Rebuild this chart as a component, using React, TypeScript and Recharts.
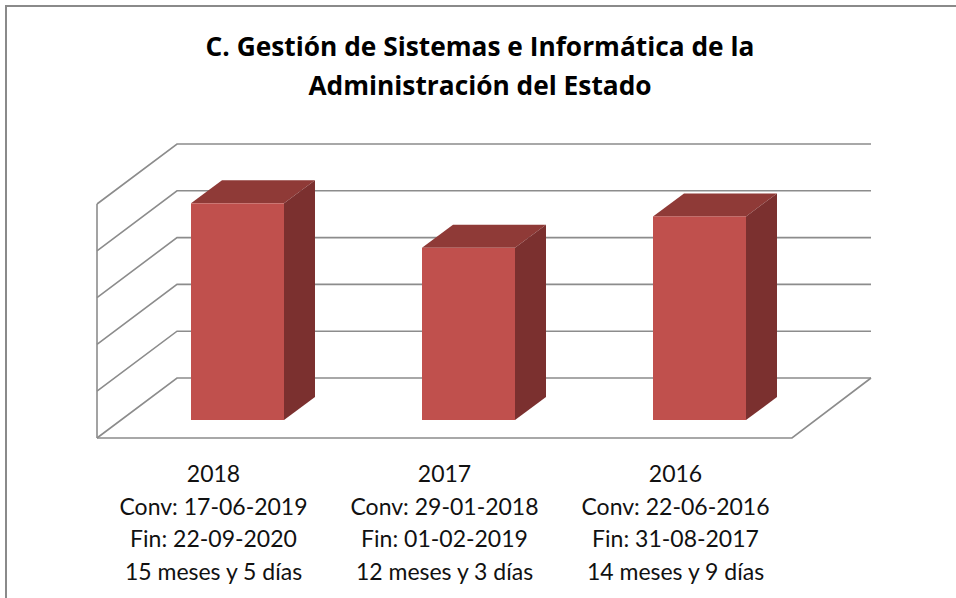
import { Bar, BarChart, CartesianGrid, ReferenceArea, XAxis, YAxis } from "recharts";

const years = ["2018", "2017", "2016"];
const convDates = ["17-06-2019", "29-01-2018", "22-06-2016"];
const finDates = ["22-09-2020", "01-02-2019", "31-08-2017"];
const durations = ["15 meses y 5 días", "12 meses y 3 días", "14 meses y 9 días"];
// duración del convenio en días
const durationDays = [463, 368, 435];
const yTicks = [0, 100, 200, 300, 400, 500];

const data = years.map((year, i) => ({ year, days: durationDays[i] }));

const GRID = "#8C8C8C";
// desplazamientos de la perspectiva (plano de barras -> pared / suelo)
const BACK_DX = 55;
const BACK_DY = -42;
const FRONT_DX = -25;
const FRONT_DY = 18;
const BAR_DX = 31;
const BAR_DY = 23;

function Bar3D(props: any) {
  const { x, y, width, height } = props;
  if (!height) return null;
  return (
    <g>
      <polygon
        points={`${x},${y} ${x + BAR_DX},${y - BAR_DY} ${x + width + BAR_DX},${y - BAR_DY} ${x + width},${y}`}
        fill="#8F3A37"
      />
      <polygon
        points={`${x + width},${y} ${x + width + BAR_DX},${y - BAR_DY} ${x + width + BAR_DX},${y + height - BAR_DY} ${x + width},${y + height}`}
        fill="#7B302F"
      />
      <rect x={x} y={y} width={width} height={height} fill="#C0504D" />
    </g>
  );
}

function GridLine3D(props: any) {
  const { x1, x2, y1 } = props;
  const pts = `${x1 + FRONT_DX},${y1 + FRONT_DY} ${x1 + BACK_DX},${y1 + BACK_DY} ${x2 + BACK_DX + 1},${y1 + BACK_DY}`;
  return <polyline key={`g-${y1}`} points={pts} fill="none" stroke={GRID} strokeWidth={1.6} />;
}

function WallFrame(props: any) {
  const { x, y, width, height } = props;
  const fx = x + FRONT_DX;
  const bottom = y + height;
  return (
    <g fill="none" stroke={GRID} strokeWidth={1.6}>
      <line x1={fx} y1={y + FRONT_DY} x2={fx} y2={bottom + FRONT_DY} />
      <polyline
        points={`${fx},${bottom + FRONT_DY} ${x + width - 23},${bottom + FRONT_DY} ${x + width + BACK_DX + 1},${bottom + BACK_DY}`}
      />
    </g>
  );
}

function CategoryTick(props: any) {
  const { x, y, payload } = props;
  const i = years.indexOf(payload.value);
  const cx = x - 24;
  const lines = [years[i], `Conv: ${convDates[i]}`, `Fin: ${finDates[i]}`, durations[i]];
  return (
    <text x={cx} y={y} textAnchor="middle" fontFamily="Lato" fontSize={23} fill="#111">
      {lines.map((line, k) => (
        <tspan key={k} x={cx} dy={k === 0 ? 62 : 32.5}>
          {line}
        </tspan>
      ))}
    </text>
  );
}

export default function App() {
  return (
    <div style={{ position: "absolute", left: 0, top: 0, width: 956, height: 598, overflow: "hidden", background: "#fff" }}>
      <div
        style={{
          position: "absolute",
          left: 5,
          top: 5,
          width: 1000,
          height: 700,
          border: "2px solid #8A8A8A",
        }}
      />
      <div
        style={{
          position: "absolute",
          left: 0,
          top: 27,
          width: 960,
          textAlign: "center",
          fontFamily: "'Open Sans'",
          fontWeight: 700,
          fontSize: 26.3,
          lineHeight: "39px",
          color: "#000",
        }}
      >
        C. Gestión de Sistemas e Informática de la
        <br />
        Administración del Estado
      </div>
      <div style={{ position: "absolute", left: 0, top: 0 }}>
        <BarChart width={956} height={598} data={data} margin={{ top: 186, right: 141, left: 122, bottom: 148 }} barSize={93}>
          <CartesianGrid vertical={false} horizontal={GridLine3D} />
          <ReferenceArea y1={0} y2={500} shape={WallFrame} />
          <YAxis hide domain={[0, 500]} ticks={yTicks} />
          <XAxis
            dataKey="year"
            height={30}
            axisLine={false}
            tickLine={false}
            tickSize={0}
            tickMargin={0}
            interval={0}
            tick={CategoryTick}
          />
          <Bar dataKey="days" shape={Bar3D} isAnimationActive={false} />
        </BarChart>
      </div>
    </div>
  );
}
